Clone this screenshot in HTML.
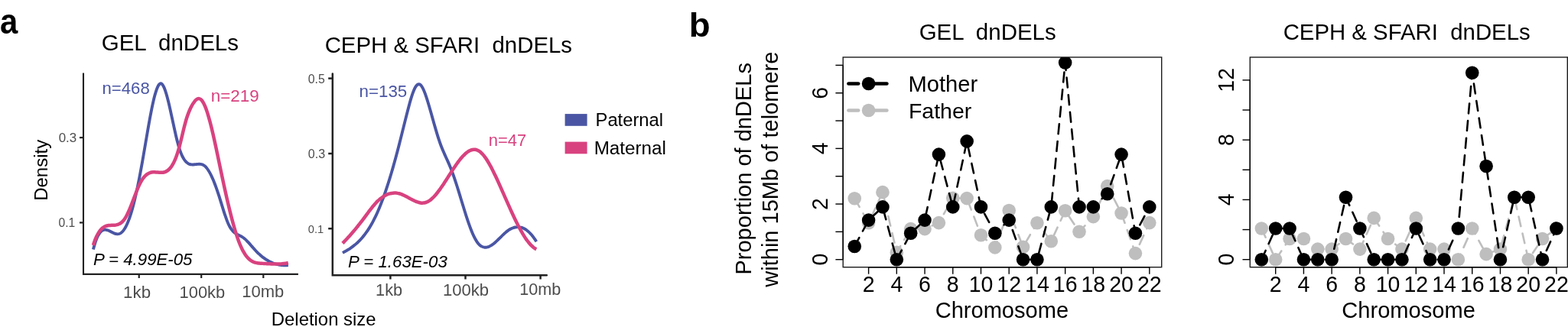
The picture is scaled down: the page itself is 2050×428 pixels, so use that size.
<!DOCTYPE html>
<html lang="en"><head><meta charset="utf-8"><title>dnDELs figure</title>
<style>html,body{margin:0;padding:0;background:#fff;}body{width:2050px;height:428px;overflow:hidden;}svg{display:block;}text{font-family:"Liberation Sans", sans-serif;white-space:pre;}</style></head><body>
<svg width="2050" height="428" viewBox="0 0 2050 428">
<rect x="0" y="0" width="2050" height="428" fill="#ffffff"/>
<text transform="translate(0.05 44.0) scale(1 1.12)" x="0" y="0" font-size="41.86" font-weight="bold" fill="#000">a</text>
<text transform="translate(900.75 47.9) scale(1 0.967)" x="0" y="0" font-size="45.66" font-weight="bold" fill="#000">b</text>
<text x="132.73" y="65.90" font-size="29.50" fill="#000" xml:space="preserve">GEL  dnDELs</text>
<path d="M109 95.5 V358.9 H389.9" fill="none" stroke="#222222" stroke-width="2.10"/>
<line x1="181.75" y1="358.90" x2="181.75" y2="364.00" stroke="#222222" stroke-width="2.20" />
<line x1="263.20" y1="358.90" x2="263.20" y2="364.00" stroke="#222222" stroke-width="2.20" />
<line x1="344.30" y1="358.90" x2="344.30" y2="364.00" stroke="#222222" stroke-width="2.20" />
<line x1="104.00" y1="180.10" x2="109.00" y2="180.10" stroke="#222222" stroke-width="2.20" />
<line x1="104.00" y1="291.40" x2="109.00" y2="291.40" stroke="#222222" stroke-width="2.20" />
<text x="76.67" y="185.90" font-size="16.91" fill="#4d4d4d" xml:space="preserve">0.3</text>
<text x="76.51" y="297.10" font-size="15.62" fill="#4d4d4d" xml:space="preserve">0.1</text>
<text x="161.12" y="390.00" font-size="22.33" fill="#4d4d4d" xml:space="preserve">1kb</text>
<text x="234.56" y="390.00" font-size="21.93" fill="#4d4d4d" xml:space="preserve">100kb</text>
<text x="316.25" y="388.80" font-size="21.99" fill="#4d4d4d" xml:space="preserve">10mb</text>
<text x="61.80" y="262.85" font-size="24.03" fill="#000" transform="rotate(-90 61.80 262.85)" xml:space="preserve">Density</text>
<text x="354.86" y="426.30" font-size="23.87" fill="#000" xml:space="preserve">Deletion size</text>
<path d="M121.90 326.59C122.57 323.94 123.24 321.54 123.91 319.37C124.58 317.21 125.25 315.27 125.91 313.55C126.58 311.83 127.25 310.32 127.92 308.99C128.59 307.67 129.26 306.54 129.93 305.57C130.60 304.61 131.27 303.81 131.94 303.16C132.60 302.51 133.27 302.00 133.94 301.62C134.61 301.24 135.28 300.99 135.95 300.84C136.62 300.69 137.29 300.64 137.96 300.68C138.63 300.71 139.29 300.83 139.96 301.01C140.63 301.19 141.30 301.43 141.97 301.70C142.64 301.98 143.31 302.30 143.98 302.64C144.65 302.97 145.32 303.33 145.99 303.68C146.65 304.03 147.32 304.37 147.99 304.70C148.66 305.02 149.33 305.32 150.00 305.57C150.67 305.82 151.34 306.03 152.01 306.16C152.68 306.30 153.34 306.37 154.01 306.35C154.68 306.33 155.35 306.23 156.02 306.01C156.69 305.79 157.36 305.46 158.03 305.00C158.70 304.54 159.37 303.96 160.03 303.25C160.70 302.54 161.37 301.71 162.04 300.75C162.71 299.79 163.38 298.70 164.05 297.49C164.72 296.27 165.39 294.93 166.06 293.45C166.72 291.98 167.39 290.38 168.06 288.65C168.73 286.91 169.40 285.05 170.07 283.06C170.74 281.06 171.41 278.94 172.08 276.68C172.75 274.42 173.42 272.03 174.08 269.50C174.75 266.98 175.42 264.32 176.09 261.53C176.76 258.73 177.43 255.82 178.10 252.78C178.77 249.75 179.44 246.60 180.11 243.34C180.77 240.09 181.44 236.73 182.11 233.27C182.78 229.82 183.45 226.28 184.12 222.65C184.79 219.03 185.46 215.33 186.13 211.55C186.80 207.78 187.46 203.93 188.13 200.04C188.80 196.15 189.47 192.21 190.14 188.27C190.81 184.32 191.48 180.38 192.15 176.47C192.82 172.56 193.49 168.68 194.16 164.89C194.82 161.09 195.49 157.37 196.16 153.77C196.83 150.16 197.50 146.68 198.17 143.35C198.84 140.02 199.51 136.86 200.18 133.89C200.85 130.92 201.51 128.14 202.18 125.61C202.85 123.08 203.52 120.79 204.19 118.77C204.86 116.76 205.53 115.03 206.20 113.61C206.87 112.20 207.54 111.11 208.20 110.38C208.87 109.64 209.54 109.27 210.21 109.30C210.88 109.33 211.55 109.77 212.22 110.56C212.89 111.35 213.56 112.49 214.23 113.93C214.90 115.37 215.56 117.11 216.23 119.09C216.90 121.08 217.57 123.31 218.24 125.74C218.91 128.16 219.58 130.78 220.25 133.54C220.92 136.30 221.59 139.20 222.25 142.18C222.92 145.17 223.59 148.24 224.26 151.34C224.93 154.45 225.60 157.59 226.27 160.71C226.94 163.83 227.61 166.93 228.28 169.96C228.94 172.99 229.61 175.94 230.28 178.77C230.95 181.60 231.62 184.31 232.29 186.83C232.96 189.36 233.63 191.70 234.30 193.83C234.97 195.95 235.63 197.88 236.30 199.62C236.97 201.35 237.64 202.91 238.31 204.30C238.98 205.68 239.65 206.91 240.32 207.98C240.99 209.05 241.66 209.98 242.33 210.78C242.99 211.58 243.66 212.25 244.33 212.81C245.00 213.37 245.67 213.82 246.34 214.18C247.01 214.54 247.68 214.81 248.35 215.00C249.02 215.20 249.68 215.32 250.35 215.39C251.02 215.46 251.69 215.48 252.36 215.46C253.03 215.44 253.70 215.38 254.37 215.31C255.04 215.24 255.71 215.15 256.37 215.07C257.04 214.99 257.71 214.90 258.38 214.84C259.05 214.78 259.72 214.75 260.39 214.75C261.06 214.75 261.73 214.79 262.40 214.89C263.07 215.00 263.73 215.16 264.40 215.40C265.07 215.64 265.74 215.96 266.41 216.37C267.08 216.79 267.75 217.30 268.42 217.93C269.09 218.55 269.76 219.29 270.42 220.13C271.09 220.97 271.76 221.91 272.43 222.95C273.10 223.99 273.77 225.13 274.44 226.36C275.11 227.58 275.78 228.90 276.45 230.31C277.11 231.71 277.78 233.20 278.45 234.77C279.12 236.33 279.79 237.98 280.46 239.70C281.13 241.42 281.80 243.21 282.47 245.06C283.14 246.92 283.80 248.84 284.47 250.82C285.14 252.81 285.81 254.85 286.48 256.94C287.15 259.04 287.82 261.19 288.49 263.36C289.16 265.53 289.83 267.73 290.50 269.90C291.16 272.08 291.83 274.24 292.50 276.35C293.17 278.46 293.84 280.52 294.51 282.49C295.18 284.46 295.85 286.34 296.52 288.11C297.19 289.87 297.85 291.51 298.52 292.99C299.19 294.48 299.86 295.80 300.53 296.98C301.20 298.16 301.87 299.20 302.54 300.13C303.21 301.05 303.88 301.86 304.54 302.57C305.21 303.29 305.88 303.90 306.55 304.45C307.22 305.00 307.89 305.47 308.56 305.90C309.23 306.33 309.90 306.70 310.57 307.06C311.24 307.41 311.90 307.73 312.57 308.05C313.24 308.38 313.91 308.70 314.58 309.03C315.25 309.37 315.92 309.73 316.59 310.13C317.26 310.53 317.93 310.98 318.59 311.48C319.26 311.98 319.93 312.54 320.60 313.13C321.27 313.73 321.94 314.37 322.61 315.04C323.28 315.71 323.95 316.42 324.62 317.14C325.28 317.87 325.95 318.62 326.62 319.38C327.29 320.14 327.96 320.91 328.63 321.69C329.30 322.46 329.97 323.24 330.64 324.01C331.31 324.78 331.98 325.54 332.64 326.29C333.31 327.04 333.98 327.76 334.65 328.47C335.32 329.17 335.99 329.86 336.66 330.52C337.33 331.18 338.00 331.82 338.67 332.44C339.33 333.06 340.00 333.65 340.67 334.23C341.34 334.81 342.01 335.36 342.68 335.90C343.35 336.43 344.02 336.95 344.69 337.44C345.36 337.94 346.02 338.41 346.69 338.87C347.36 339.32 348.03 339.76 348.70 340.17C349.37 340.59 350.04 340.99 350.71 341.36C351.38 341.74 352.05 342.10 352.71 342.44C353.38 342.78 354.05 343.10 354.72 343.40C355.39 343.70 356.06 343.98 356.73 344.25C357.40 344.51 358.07 344.76 358.74 344.99C359.41 345.22 360.07 345.43 360.74 345.63C361.41 345.82 362.08 346.00 362.75 346.16C363.42 346.32 364.09 346.46 364.76 346.58C365.43 346.71 366.10 346.82 366.76 346.91C367.43 347.00 368.10 347.08 368.77 347.14C369.44 347.20 370.11 347.24 370.78 347.27C371.45 347.30 372.12 347.31 372.79 347.31C373.45 347.30 374.12 347.29 374.79 347.25C375.46 347.22 376.13 347.17 376.80 347.11" fill="none" stroke="#4a56a4" stroke-width="3.90" stroke-linejoin="round"/>
<path d="M121.90 320.99C122.57 318.88 123.24 316.94 123.91 315.16C124.58 313.38 125.25 311.76 125.91 310.28C126.58 308.80 127.25 307.47 127.92 306.26C128.59 305.05 129.26 303.97 129.93 303.01C130.60 302.05 131.27 301.20 131.94 300.46C132.60 299.71 133.27 299.06 133.94 298.50C134.61 297.95 135.28 297.48 135.95 297.08C136.62 296.68 137.29 296.35 137.96 296.09C138.63 295.82 139.29 295.62 139.96 295.45C140.63 295.29 141.30 295.17 141.97 295.09C142.64 295.00 143.31 294.95 143.98 294.91C144.65 294.87 145.32 294.85 145.99 294.84C146.65 294.82 147.32 294.81 147.99 294.78C148.66 294.76 149.33 294.72 150.00 294.66C150.67 294.60 151.34 294.51 152.01 294.39C152.68 294.26 153.34 294.10 154.01 293.88C154.68 293.67 155.35 293.40 156.02 293.06C156.69 292.73 157.36 292.32 158.03 291.84C158.70 291.36 159.37 290.79 160.03 290.13C160.70 289.47 161.37 288.72 162.04 287.85C162.71 286.99 163.38 286.02 164.05 284.92C164.72 283.83 165.39 282.60 166.06 281.28C166.72 279.95 167.39 278.52 168.06 277.02C168.73 275.51 169.40 273.92 170.07 272.28C170.74 270.64 171.41 268.94 172.08 267.21C172.75 265.49 173.42 263.73 174.08 261.96C174.75 260.20 175.42 258.43 176.09 256.68C176.76 254.93 177.43 253.19 178.10 251.50C178.77 249.81 179.44 248.16 180.11 246.58C180.77 245.00 181.44 243.49 182.11 242.06C182.78 240.64 183.45 239.31 184.12 238.09C184.79 236.87 185.46 235.76 186.13 234.76C186.80 233.75 187.46 232.85 188.13 232.03C188.80 231.22 189.47 230.50 190.14 229.86C190.81 229.22 191.48 228.66 192.15 228.18C192.82 227.69 193.49 227.28 194.16 226.94C194.82 226.59 195.49 226.31 196.16 226.09C196.83 225.86 197.50 225.69 198.17 225.56C198.84 225.44 199.51 225.36 200.18 225.32C200.85 225.28 201.51 225.27 202.18 225.29C202.85 225.31 203.52 225.35 204.19 225.40C204.86 225.45 205.53 225.52 206.20 225.58C206.87 225.64 207.54 225.70 208.20 225.74C208.87 225.79 209.54 225.82 210.21 225.82C210.88 225.83 211.55 225.81 212.22 225.74C212.89 225.68 213.56 225.58 214.23 225.43C214.90 225.28 215.56 225.07 216.23 224.81C216.90 224.54 217.57 224.20 218.24 223.79C218.91 223.38 219.58 222.90 220.25 222.32C220.92 221.75 221.59 221.08 222.25 220.31C222.92 219.55 223.59 218.68 224.26 217.70C224.93 216.71 225.60 215.61 226.27 214.39C226.94 213.17 227.61 211.81 228.28 210.32C228.94 208.83 229.61 207.20 230.28 205.42C230.95 203.64 231.62 201.70 232.29 199.60C232.96 197.50 233.63 195.24 234.30 192.80C234.97 190.36 235.63 187.73 236.30 185.01C236.97 182.29 237.64 179.48 238.31 176.66C238.98 173.85 239.65 171.04 240.32 168.32C240.99 165.60 241.66 162.98 242.33 160.55C242.99 158.11 243.66 155.88 244.33 153.81C245.00 151.74 245.67 149.84 246.34 148.09C247.01 146.34 247.68 144.73 248.35 143.25C249.02 141.77 249.68 140.41 250.35 139.15C251.02 137.89 251.69 136.72 252.36 135.66C253.03 134.59 253.70 133.62 254.37 132.78C255.04 131.94 255.71 131.23 256.37 130.65C257.04 130.08 257.71 129.66 258.38 129.39C259.05 129.13 259.72 129.04 260.39 129.13C261.06 129.22 261.73 129.50 262.40 129.98C263.07 130.47 263.73 131.16 264.40 132.07C265.07 132.99 265.74 134.10 266.41 135.41C267.08 136.72 267.75 138.22 268.42 139.88C269.09 141.55 269.76 143.39 270.42 145.38C271.09 147.37 271.76 149.51 272.43 151.79C273.10 154.06 273.77 156.47 274.44 158.99C275.11 161.51 275.78 164.15 276.45 166.88C277.11 169.61 277.78 172.44 278.45 175.34C279.12 178.24 279.79 181.22 280.46 184.25C281.13 187.29 281.80 190.38 282.47 193.52C283.14 196.65 283.80 199.82 284.47 203.01C285.14 206.20 285.81 209.41 286.48 212.62C287.15 215.83 287.82 219.04 288.49 222.24C289.16 225.43 289.83 228.60 290.50 231.75C291.16 234.90 291.83 238.02 292.50 241.11C293.17 244.20 293.84 247.25 294.51 250.27C295.18 253.28 295.85 256.26 296.52 259.18C297.19 262.11 297.85 264.99 298.52 267.82C299.19 270.65 299.86 273.42 300.53 276.14C301.20 278.85 301.87 281.50 302.54 284.09C303.21 286.68 303.88 289.20 304.54 291.64C305.21 294.09 305.88 296.46 306.55 298.75C307.22 301.04 307.89 303.25 308.56 305.38C309.23 307.50 309.90 309.54 310.57 311.48C311.24 313.42 311.90 315.27 312.57 317.02C313.24 318.77 313.91 320.42 314.58 321.96C315.25 323.50 315.92 324.93 316.59 326.27C317.26 327.61 317.93 328.84 318.59 329.99C319.26 331.14 319.93 332.20 320.60 333.17C321.27 334.15 321.94 335.04 322.61 335.85C323.28 336.67 323.95 337.40 324.62 338.07C325.28 338.74 325.95 339.34 326.62 339.88C327.29 340.42 327.96 340.90 328.63 341.33C329.30 341.75 329.97 342.12 330.64 342.45C331.31 342.77 331.98 343.05 332.64 343.29C333.31 343.52 333.98 343.72 334.65 343.89C335.32 344.06 335.99 344.19 336.66 344.30C337.33 344.41 338.00 344.50 338.67 344.57C339.33 344.64 340.00 344.69 340.67 344.73C341.34 344.77 342.01 344.80 342.68 344.83C343.35 344.86 344.02 344.89 344.69 344.92C345.36 344.95 346.02 344.99 346.69 345.02C347.36 345.06 348.03 345.09 348.70 345.13C349.37 345.16 350.04 345.20 350.71 345.24C351.38 345.27 352.05 345.31 352.71 345.34C353.38 345.38 354.05 345.41 354.72 345.44C355.39 345.47 356.06 345.49 356.73 345.52C357.40 345.54 358.07 345.56 358.74 345.57C359.41 345.59 360.07 345.60 360.74 345.60C361.41 345.60 362.08 345.60 362.75 345.59C363.42 345.58 364.09 345.57 364.76 345.54C365.43 345.52 366.10 345.49 366.76 345.45C367.43 345.40 368.10 345.35 368.77 345.30C369.44 345.24 370.11 345.17 370.78 345.08C371.45 345.00 372.12 344.91 372.79 344.81C373.45 344.70 374.12 344.59 374.79 344.46C375.46 344.33 376.13 344.19 376.80 344.03" fill="none" stroke="#d8427f" stroke-width="4.50" stroke-linejoin="round"/>
<text x="133.51" y="122.90" font-size="22.17" fill="#4a56a4" xml:space="preserve">n=468</text>
<text x="275.70" y="133.05" font-size="22.41" fill="#d8427f" xml:space="preserve">n=219</text>
<text x="121.90" y="347.00" font-size="22.24" fill="#000" font-style="italic" xml:space="preserve">P = 4.99E-05</text>
<text x="424.63" y="69.00" font-size="29.40" fill="#000" xml:space="preserve">CEPH &amp; SFARI  dnDELs</text>
<path d="M434.8 96.5 V360.3 H714.8" fill="none" stroke="#222222" stroke-width="2.50" stroke-linecap="round"/>
<line x1="510.40" y1="360.30" x2="510.40" y2="365.50" stroke="#222222" stroke-width="2.50" />
<line x1="608.50" y1="360.30" x2="608.50" y2="365.50" stroke="#222222" stroke-width="2.50" />
<line x1="706.60" y1="360.30" x2="706.60" y2="365.50" stroke="#222222" stroke-width="2.50" />
<line x1="429.20" y1="102.60" x2="434.80" y2="102.60" stroke="#222222" stroke-width="2.50" />
<line x1="429.20" y1="201.00" x2="434.80" y2="201.00" stroke="#222222" stroke-width="2.50" />
<line x1="429.20" y1="299.20" x2="434.80" y2="299.20" stroke="#222222" stroke-width="2.50" />
<text x="402.81" y="108.90" font-size="15.85" fill="#4d4d4d" xml:space="preserve">0.5</text>
<text x="402.80" y="207.10" font-size="16.00" fill="#4d4d4d" xml:space="preserve">0.3</text>
<text x="402.85" y="304.70" font-size="14.62" fill="#4d4d4d" xml:space="preserve">0.1</text>
<text x="491.07" y="386.70" font-size="21.73" fill="#4d4d4d" xml:space="preserve">1kb</text>
<text x="578.94" y="386.70" font-size="22.09" fill="#4d4d4d" xml:space="preserve">100kb</text>
<text x="679.18" y="386.20" font-size="21.61" fill="#4d4d4d" xml:space="preserve">10mb</text>
<path d="M447.90 330.89C448.57 330.54 449.23 330.18 449.90 329.82C450.56 329.46 451.23 329.09 451.89 328.72C452.56 328.34 453.22 327.95 453.89 327.56C454.55 327.16 455.22 326.75 455.88 326.33C456.55 325.91 457.21 325.48 457.88 325.03C458.54 324.59 459.21 324.12 459.87 323.65C460.54 323.17 461.20 322.68 461.87 322.17C462.53 321.66 463.20 321.13 463.86 320.59C464.53 320.04 465.19 319.47 465.86 318.89C466.52 318.30 467.19 317.69 467.85 317.06C468.52 316.43 469.18 315.78 469.85 315.10C470.51 314.42 471.18 313.72 471.84 312.99C472.51 312.27 473.17 311.51 473.84 310.73C474.50 309.95 475.17 309.14 475.83 308.30C476.50 307.46 477.16 306.59 477.83 305.69C478.49 304.79 479.16 303.86 479.82 302.89C480.49 301.93 481.15 300.93 481.82 299.90C482.48 298.86 483.15 297.80 483.81 296.69C484.48 295.59 485.15 294.45 485.81 293.27C486.48 292.09 487.14 290.88 487.81 289.62C488.47 288.36 489.14 287.07 489.80 285.73C490.47 284.39 491.13 283.01 491.80 281.59C492.46 280.17 493.13 278.70 493.79 277.19C494.46 275.68 495.12 274.13 495.79 272.53C496.45 270.93 497.12 269.29 497.78 267.61C498.45 265.93 499.11 264.20 499.78 262.43C500.44 260.67 501.11 258.86 501.77 257.01C502.44 255.16 503.10 253.27 503.77 251.33C504.43 249.40 505.10 247.43 505.76 245.42C506.43 243.40 507.09 241.35 507.76 239.26C508.42 237.17 509.09 235.04 509.75 232.87C510.42 230.69 511.08 228.49 511.75 226.24C512.41 223.99 513.08 221.71 513.74 219.38C514.41 217.06 515.07 214.70 515.74 212.30C516.40 209.90 517.07 207.47 517.73 205.00C518.40 202.53 519.06 200.02 519.73 197.48C520.40 194.93 521.06 192.35 521.73 189.75C522.39 187.14 523.06 184.51 523.72 181.86C524.39 179.21 525.05 176.55 525.72 173.88C526.38 171.20 527.05 168.53 527.71 165.86C528.38 163.18 529.04 160.51 529.71 157.86C530.37 155.21 531.04 152.57 531.70 149.95C532.37 147.34 533.03 144.74 533.70 142.20C534.36 139.65 535.03 137.16 535.69 134.76C536.36 132.36 537.02 130.05 537.69 127.88C538.35 125.71 539.02 123.67 539.68 121.82C540.35 119.96 541.01 118.28 541.68 116.82C542.34 115.35 543.01 114.11 543.67 113.13C544.34 112.14 545.00 111.41 545.67 110.92C546.33 110.44 547.00 110.21 547.66 110.24C548.33 110.27 548.99 110.55 549.66 111.10C550.32 111.65 550.99 112.46 551.65 113.50C552.32 114.54 552.98 115.82 553.65 117.27C554.31 118.73 554.98 120.38 555.64 122.17C556.31 123.95 556.98 125.89 557.64 127.92C558.31 129.96 558.97 132.10 559.64 134.29C560.30 136.49 560.97 138.75 561.63 141.04C562.30 143.34 562.96 145.67 563.63 148.02C564.29 150.37 564.96 152.75 565.62 155.12C566.29 157.48 566.95 159.85 567.62 162.20C568.28 164.54 568.95 166.87 569.61 169.15C570.28 171.43 570.94 173.67 571.61 175.85C572.27 178.03 572.94 180.14 573.60 182.17C574.27 184.21 574.93 186.16 575.60 188.00C576.26 189.85 576.93 191.60 577.59 193.27C578.26 194.95 578.92 196.55 579.59 198.10C580.25 199.65 580.92 201.16 581.58 202.63C582.25 204.11 582.91 205.56 583.58 207.02C584.24 208.47 584.91 209.92 585.57 211.40C586.24 212.87 586.90 214.37 587.57 215.92C588.23 217.47 588.90 219.07 589.56 220.74C590.23 222.41 590.89 224.16 591.56 225.97C592.22 227.79 592.89 229.67 593.56 231.60C594.22 233.54 594.89 235.53 595.55 237.56C596.22 239.59 596.88 241.67 597.55 243.77C598.21 245.88 598.88 248.02 599.54 250.17C600.21 252.33 600.87 254.51 601.54 256.69C602.20 258.88 602.87 261.07 603.53 263.26C604.20 265.45 604.86 267.63 605.53 269.80C606.19 271.98 606.86 274.13 607.52 276.26C608.19 278.39 608.85 280.49 609.52 282.56C610.18 284.62 610.85 286.65 611.51 288.62C612.18 290.60 612.84 292.52 613.51 294.39C614.17 296.25 614.84 298.06 615.50 299.79C616.17 301.52 616.83 303.17 617.50 304.75C618.16 306.32 618.83 307.81 619.49 309.20C620.16 310.59 620.82 311.89 621.49 313.07C622.15 314.26 622.82 315.34 623.48 316.31C624.15 317.28 624.81 318.14 625.48 318.91C626.14 319.67 626.81 320.33 627.47 320.90C628.14 321.48 628.80 321.95 629.47 322.35C630.14 322.74 630.80 323.05 631.47 323.28C632.13 323.51 632.80 323.66 633.46 323.74C634.13 323.81 634.79 323.82 635.46 323.76C636.12 323.71 636.79 323.58 637.45 323.40C638.12 323.22 638.78 322.99 639.45 322.70C640.11 322.41 640.78 322.07 641.44 321.68C642.11 321.30 642.77 320.87 643.44 320.41C644.10 319.95 644.77 319.44 645.43 318.91C646.10 318.38 646.76 317.82 647.43 317.24C648.09 316.66 648.76 316.05 649.42 315.43C650.09 314.80 650.75 314.16 651.42 313.52C652.08 312.87 652.75 312.21 653.41 311.55C654.08 310.90 654.74 310.23 655.41 309.58C656.07 308.92 656.74 308.27 657.40 307.63C658.07 306.99 658.73 306.37 659.40 305.76C660.06 305.15 660.73 304.56 661.39 304.00C662.06 303.43 662.72 302.90 663.39 302.39C664.05 301.88 664.72 301.41 665.39 300.98C666.05 300.54 666.72 300.14 667.38 299.78C668.05 299.42 668.71 299.09 669.38 298.80C670.04 298.51 670.71 298.26 671.37 298.04C672.04 297.83 672.70 297.65 673.37 297.51C674.03 297.37 674.70 297.27 675.36 297.21C676.03 297.15 676.69 297.13 677.36 297.15C678.02 297.16 678.69 297.22 679.35 297.32C680.02 297.42 680.68 297.56 681.35 297.74C682.01 297.92 682.68 298.14 683.34 298.40C684.01 298.66 684.67 298.97 685.34 299.32C686.00 299.66 686.67 300.06 687.33 300.49C688.00 300.92 688.66 301.40 689.33 301.92C689.99 302.44 690.66 303.01 691.32 303.61C691.99 304.22 692.65 304.88 693.32 305.58C693.98 306.28 694.65 307.02 695.31 307.81C695.98 308.60 696.64 309.44 697.31 310.33C697.97 311.21 698.64 312.14 699.30 313.12C699.97 314.10 700.63 315.12 701.30 316.20" fill="none" stroke="#4a56a4" stroke-width="3.90" stroke-linejoin="round"/>
<path d="M447.90 318.42C448.57 317.75 449.23 317.07 449.90 316.39C450.56 315.70 451.23 315.00 451.89 314.30C452.56 313.60 453.22 312.89 453.89 312.17C454.55 311.46 455.22 310.73 455.88 310.00C456.55 309.27 457.21 308.53 457.88 307.78C458.54 307.03 459.21 306.27 459.87 305.51C460.54 304.75 461.20 303.97 461.87 303.19C462.53 302.41 463.20 301.63 463.86 300.83C464.53 300.03 465.19 299.23 465.86 298.42C466.52 297.60 467.19 296.78 467.85 295.96C468.52 295.13 469.18 294.29 469.85 293.44C470.51 292.60 471.18 291.74 471.84 290.88C472.51 290.02 473.17 289.15 473.84 288.27C474.50 287.39 475.17 286.50 475.83 285.61C476.50 284.71 477.16 283.81 477.83 282.90C478.49 282.00 479.16 281.09 479.82 280.19C480.49 279.29 481.15 278.38 481.82 277.49C482.48 276.60 483.15 275.71 483.81 274.84C484.48 273.97 485.15 273.10 485.81 272.26C486.48 271.41 487.14 270.59 487.81 269.78C488.47 268.98 489.14 268.19 489.80 267.43C490.47 266.67 491.13 265.94 491.80 265.24C492.46 264.54 493.13 263.87 493.79 263.22C494.46 262.58 495.12 261.97 495.79 261.38C496.45 260.80 497.12 260.24 497.78 259.71C498.45 259.19 499.11 258.69 499.78 258.22C500.44 257.75 501.11 257.31 501.77 256.90C502.44 256.49 503.10 256.11 503.77 255.76C504.43 255.40 505.10 255.08 505.76 254.79C506.43 254.49 507.09 254.23 507.76 253.99C508.42 253.75 509.09 253.55 509.75 253.37C510.42 253.19 511.08 253.04 511.75 252.92C512.41 252.80 513.08 252.71 513.74 252.64C514.41 252.58 515.07 252.55 515.74 252.54C516.40 252.54 517.07 252.56 517.73 252.61C518.40 252.66 519.06 252.75 519.73 252.86C520.40 252.97 521.06 253.11 521.73 253.27C522.39 253.44 523.06 253.64 523.72 253.86C524.39 254.09 525.05 254.34 525.72 254.61C526.38 254.88 527.05 255.18 527.71 255.49C528.38 255.80 529.04 256.12 529.71 256.46C530.37 256.80 531.04 257.15 531.70 257.51C532.37 257.86 533.03 258.23 533.70 258.60C534.36 258.96 535.03 259.33 535.69 259.70C536.36 260.07 537.02 260.43 537.69 260.79C538.35 261.15 539.02 261.50 539.68 261.84C540.35 262.18 541.01 262.50 541.68 262.81C542.34 263.12 543.01 263.42 543.67 263.69C544.34 263.96 545.00 264.22 545.67 264.44C546.33 264.67 547.00 264.87 547.66 265.03C548.33 265.20 548.99 265.34 549.66 265.44C550.32 265.54 550.99 265.61 551.65 265.64C552.32 265.66 552.98 265.65 553.65 265.59C554.31 265.53 554.98 265.43 555.64 265.27C556.31 265.12 556.98 264.91 557.64 264.65C558.31 264.40 558.97 264.08 559.64 263.72C560.30 263.36 560.97 262.94 561.63 262.48C562.30 262.02 562.96 261.51 563.63 260.96C564.29 260.41 564.96 259.82 565.62 259.18C566.29 258.55 566.95 257.88 567.62 257.17C568.28 256.46 568.95 255.72 569.61 254.94C570.28 254.16 570.94 253.36 571.61 252.52C572.27 251.69 572.94 250.82 573.60 249.93C574.27 249.05 574.93 248.13 575.60 247.20C576.26 246.27 576.93 245.32 577.59 244.35C578.26 243.38 578.92 242.39 579.59 241.39C580.25 240.39 580.92 239.38 581.58 238.36C582.25 237.33 582.91 236.30 583.58 235.27C584.24 234.23 584.91 233.19 585.57 232.14C586.24 231.10 586.90 230.05 587.57 229.01C588.23 227.97 588.90 226.93 589.56 225.89C590.23 224.85 590.89 223.83 591.56 222.80C592.22 221.78 592.89 220.77 593.56 219.78C594.22 218.78 594.89 217.80 595.55 216.83C596.22 215.86 596.88 214.91 597.55 213.98C598.21 213.05 598.88 212.15 599.54 211.26C600.21 210.38 600.87 209.52 601.54 208.69C602.20 207.85 602.87 207.05 603.53 206.28C604.20 205.51 604.86 204.77 605.53 204.06C606.19 203.36 606.86 202.69 607.52 202.06C608.19 201.43 608.85 200.84 609.52 200.29C610.18 199.74 610.85 199.23 611.51 198.77C612.18 198.32 612.84 197.90 613.51 197.54C614.17 197.18 614.84 196.86 615.50 196.61C616.17 196.35 616.83 196.14 617.50 195.99C618.16 195.85 618.83 195.76 619.49 195.73C620.16 195.70 620.82 195.73 621.49 195.83C622.15 195.92 622.82 196.08 623.48 196.32C624.15 196.55 624.81 196.84 625.48 197.21C626.14 197.59 626.81 198.03 627.47 198.54C628.14 199.05 628.80 199.63 629.47 200.27C630.14 200.92 630.80 201.62 631.47 202.39C632.13 203.15 632.80 203.97 633.46 204.85C634.13 205.73 634.79 206.66 635.46 207.64C636.12 208.62 636.79 209.65 637.45 210.72C638.12 211.79 638.78 212.91 639.45 214.07C640.11 215.23 640.78 216.42 641.44 217.66C642.11 218.89 642.77 220.15 643.44 221.45C644.10 222.75 644.77 224.08 645.43 225.43C646.10 226.78 646.76 228.16 647.43 229.56C648.09 230.96 648.76 232.38 649.42 233.82C650.09 235.26 650.75 236.71 651.42 238.18C652.08 239.64 652.75 241.12 653.41 242.60C654.08 244.09 654.74 245.58 655.41 247.08C656.07 248.58 656.74 250.08 657.40 251.59C658.07 253.09 658.73 254.60 659.40 256.11C660.06 257.62 660.73 259.14 661.39 260.64C662.06 262.15 662.72 263.66 663.39 265.16C664.05 266.66 664.72 268.15 665.39 269.64C666.05 271.12 666.72 272.60 667.38 274.07C668.05 275.54 668.71 276.99 669.38 278.44C670.04 279.88 670.71 281.31 671.37 282.73C672.04 284.14 672.70 285.54 673.37 286.92C674.03 288.29 674.70 289.65 675.36 290.99C676.03 292.33 676.69 293.65 677.36 294.94C678.02 296.23 678.69 297.50 679.35 298.74C680.02 299.98 680.68 301.19 681.35 302.38C682.01 303.56 682.68 304.71 683.34 305.83C684.01 306.95 684.67 308.04 685.34 309.10C686.00 310.15 686.67 311.17 687.33 312.15C688.00 313.12 688.66 314.07 689.33 314.97C689.99 315.87 690.66 316.73 691.32 317.54C691.99 318.36 692.65 319.13 693.32 319.86C693.98 320.58 694.65 321.26 695.31 321.90C695.98 322.53 696.64 323.11 697.31 323.64C697.97 324.17 698.64 324.65 699.30 325.07C699.97 325.50 700.63 325.86 701.30 326.18" fill="none" stroke="#d8427f" stroke-width="4.50" stroke-linejoin="round"/>
<text x="469.50" y="126.80" font-size="22.36" fill="#4a56a4" xml:space="preserve">n=135</text>
<text x="638.72" y="190.80" font-size="22.02" fill="#d8427f" xml:space="preserve">n=47</text>
<text x="455.10" y="350.00" font-size="22.25" fill="#000" font-style="italic" xml:space="preserve">P = 1.63E-03</text>
<rect x="738.6" y="149.1" width="29.0" height="15.7" fill="#4a56a4"/>
<rect x="738.6" y="185.6" width="29.0" height="15.7" fill="#d8427f"/>
<text x="778.57" y="165.20" font-size="23.76" fill="#000" xml:space="preserve">Paternal</text>
<text x="776.63" y="201.70" font-size="24.23" fill="#000" xml:space="preserve">Maternal</text>
<clipPath id="c3"><rect x="1102.20" y="74.90" width="416.50" height="274.80"/></clipPath>
<g clip-path="url(#c3)">
<path d="M1117.24 259.70 L1135.60 291.80 L1153.96 251.60 L1172.32 330.40 L1190.68 299.60 L1209.04 299.60 L1227.40 291.60 L1245.76 259.30 L1264.12 259.60 L1282.48 307.70 L1300.84 323.90 L1319.20 275.50 L1337.56 323.20 L1355.92 291.70 L1374.28 315.70 L1392.64 275.80 L1411.00 303.30 L1429.36 283.60 L1447.72 243.60 L1466.08 279.00 L1484.44 331.60 L1502.80 291.60" fill="none" stroke="#bebebe" stroke-width="2.60" stroke-dasharray="12.9 9.78" stroke-dashoffset="0.00" stroke-linecap="round" stroke-linejoin="round"/>
<circle cx="1117.24" cy="259.70" r="8.80" fill="#bebebe"/>
<circle cx="1135.60" cy="291.80" r="8.80" fill="#bebebe"/>
<circle cx="1153.96" cy="251.60" r="8.80" fill="#bebebe"/>
<circle cx="1172.32" cy="330.40" r="8.80" fill="#bebebe"/>
<circle cx="1190.68" cy="299.60" r="8.80" fill="#bebebe"/>
<circle cx="1209.04" cy="299.60" r="8.80" fill="#bebebe"/>
<circle cx="1227.40" cy="291.60" r="8.80" fill="#bebebe"/>
<circle cx="1245.76" cy="259.30" r="8.80" fill="#bebebe"/>
<circle cx="1264.12" cy="259.60" r="8.80" fill="#bebebe"/>
<circle cx="1282.48" cy="307.70" r="8.80" fill="#bebebe"/>
<circle cx="1300.84" cy="323.90" r="8.80" fill="#bebebe"/>
<circle cx="1319.20" cy="275.50" r="8.80" fill="#bebebe"/>
<circle cx="1337.56" cy="323.20" r="8.80" fill="#bebebe"/>
<circle cx="1355.92" cy="291.70" r="8.80" fill="#bebebe"/>
<circle cx="1374.28" cy="315.70" r="8.80" fill="#bebebe"/>
<circle cx="1392.64" cy="275.80" r="8.80" fill="#bebebe"/>
<circle cx="1411.00" cy="303.30" r="8.80" fill="#bebebe"/>
<circle cx="1429.36" cy="283.60" r="8.80" fill="#bebebe"/>
<circle cx="1447.72" cy="243.60" r="8.80" fill="#bebebe"/>
<circle cx="1466.08" cy="279.00" r="8.80" fill="#bebebe"/>
<circle cx="1484.44" cy="331.60" r="8.80" fill="#bebebe"/>
<circle cx="1502.80" cy="291.60" r="8.80" fill="#bebebe"/>
<path d="M1117.24 322.50 L1135.60 288.10 L1153.96 270.90 L1172.32 339.70 L1190.68 305.30 L1209.04 288.10 L1227.40 202.10 L1245.76 270.90 L1264.12 184.90 L1282.48 270.90 L1300.84 305.30 L1319.20 288.10 L1337.56 339.70 L1355.92 339.70 L1374.28 270.90 L1392.64 82.00 L1411.00 270.90 L1429.36 270.90 L1447.72 253.70 L1466.08 202.10 L1484.44 305.30 L1502.80 270.90" fill="none" stroke="#000000" stroke-width="2.60" stroke-dasharray="12.9 9.78" stroke-dashoffset="0.00" stroke-linecap="round" stroke-linejoin="round"/>
<circle cx="1117.24" cy="322.50" r="8.80" fill="#000000"/>
<circle cx="1135.60" cy="288.10" r="8.80" fill="#000000"/>
<circle cx="1153.96" cy="270.90" r="8.80" fill="#000000"/>
<circle cx="1172.32" cy="339.70" r="8.80" fill="#000000"/>
<circle cx="1190.68" cy="305.30" r="8.80" fill="#000000"/>
<circle cx="1209.04" cy="288.10" r="8.80" fill="#000000"/>
<circle cx="1227.40" cy="202.10" r="8.80" fill="#000000"/>
<circle cx="1245.76" cy="270.90" r="8.80" fill="#000000"/>
<circle cx="1264.12" cy="184.90" r="8.80" fill="#000000"/>
<circle cx="1282.48" cy="270.90" r="8.80" fill="#000000"/>
<circle cx="1300.84" cy="305.30" r="8.80" fill="#000000"/>
<circle cx="1319.20" cy="288.10" r="8.80" fill="#000000"/>
<circle cx="1337.56" cy="339.70" r="8.80" fill="#000000"/>
<circle cx="1355.92" cy="339.70" r="8.80" fill="#000000"/>
<circle cx="1374.28" cy="270.90" r="8.80" fill="#000000"/>
<circle cx="1392.64" cy="82.00" r="8.80" fill="#000000"/>
<circle cx="1411.00" cy="270.90" r="8.80" fill="#000000"/>
<circle cx="1429.36" cy="270.90" r="8.80" fill="#000000"/>
<circle cx="1447.72" cy="253.70" r="8.80" fill="#000000"/>
<circle cx="1466.08" cy="202.10" r="8.80" fill="#000000"/>
<circle cx="1484.44" cy="305.30" r="8.80" fill="#000000"/>
<circle cx="1502.80" cy="270.90" r="8.80" fill="#000000"/>
</g>
<rect x="1102.20" y="74.90" width="416.50" height="274.80" fill="none" stroke="#1c1c1c" stroke-width="1.40"/>
<line x1="1135.60" y1="349.70" x2="1135.60" y2="358.70" stroke="#000" stroke-width="1.40" />
<text transform="translate(1135.60 381.80) scale(1 1.040)" x="0" y="0" font-size="28.50" fill="#000" text-anchor="middle">2</text>
<line x1="1172.32" y1="349.70" x2="1172.32" y2="358.70" stroke="#000" stroke-width="1.40" />
<text transform="translate(1172.32 381.80) scale(1 1.040)" x="0" y="0" font-size="28.50" fill="#000" text-anchor="middle">4</text>
<line x1="1209.04" y1="349.70" x2="1209.04" y2="358.70" stroke="#000" stroke-width="1.40" />
<text transform="translate(1209.04 381.80) scale(1 1.040)" x="0" y="0" font-size="28.50" fill="#000" text-anchor="middle">6</text>
<line x1="1245.76" y1="349.70" x2="1245.76" y2="358.70" stroke="#000" stroke-width="1.40" />
<text transform="translate(1245.76 381.80) scale(1 1.040)" x="0" y="0" font-size="28.50" fill="#000" text-anchor="middle">8</text>
<line x1="1282.48" y1="349.70" x2="1282.48" y2="358.70" stroke="#000" stroke-width="1.40" />
<text transform="translate(1282.48 381.80) scale(1 1.040)" x="0" y="0" font-size="28.50" fill="#000" text-anchor="middle">10</text>
<line x1="1319.20" y1="349.70" x2="1319.20" y2="358.70" stroke="#000" stroke-width="1.40" />
<text transform="translate(1319.20 381.80) scale(1 1.040)" x="0" y="0" font-size="28.50" fill="#000" text-anchor="middle">12</text>
<line x1="1355.92" y1="349.70" x2="1355.92" y2="358.70" stroke="#000" stroke-width="1.40" />
<text transform="translate(1355.92 381.80) scale(1 1.040)" x="0" y="0" font-size="28.50" fill="#000" text-anchor="middle">14</text>
<line x1="1392.64" y1="349.70" x2="1392.64" y2="358.70" stroke="#000" stroke-width="1.40" />
<text transform="translate(1392.64 381.80) scale(1 1.040)" x="0" y="0" font-size="28.50" fill="#000" text-anchor="middle">16</text>
<line x1="1429.36" y1="349.70" x2="1429.36" y2="358.70" stroke="#000" stroke-width="1.40" />
<text transform="translate(1429.36 381.80) scale(1 1.040)" x="0" y="0" font-size="28.50" fill="#000" text-anchor="middle">18</text>
<line x1="1466.08" y1="349.70" x2="1466.08" y2="358.70" stroke="#000" stroke-width="1.40" />
<text transform="translate(1466.08 381.80) scale(1 1.040)" x="0" y="0" font-size="28.50" fill="#000" text-anchor="middle">20</text>
<line x1="1502.80" y1="349.70" x2="1502.80" y2="358.70" stroke="#000" stroke-width="1.40" />
<text transform="translate(1502.80 381.80) scale(1 1.040)" x="0" y="0" font-size="28.50" fill="#000" text-anchor="middle">22</text>
<line x1="1092.40" y1="339.70" x2="1102.20" y2="339.70" stroke="#000" stroke-width="1.40" />
<line x1="1092.40" y1="303.37" x2="1102.20" y2="303.37" stroke="#000" stroke-width="1.40" />
<line x1="1092.40" y1="267.04" x2="1102.20" y2="267.04" stroke="#000" stroke-width="1.40" />
<line x1="1092.40" y1="230.71" x2="1102.20" y2="230.71" stroke="#000" stroke-width="1.40" />
<line x1="1092.40" y1="194.38" x2="1102.20" y2="194.38" stroke="#000" stroke-width="1.40" />
<line x1="1092.40" y1="158.05" x2="1102.20" y2="158.05" stroke="#000" stroke-width="1.40" />
<line x1="1092.40" y1="121.72" x2="1102.20" y2="121.72" stroke="#000" stroke-width="1.40" />
<line x1="1092.40" y1="85.39" x2="1102.20" y2="85.39" stroke="#000" stroke-width="1.40" />
<line x1="1135.60" y1="349.70" x2="1502.80" y2="349.70" stroke="#000" stroke-width="1.40" />
<line x1="1102.20" y1="85.39" x2="1102.20" y2="339.70" stroke="#000" stroke-width="1.40" />
<text transform="translate(1081.60 339.70) rotate(-90) scale(1 1.040)" x="0" y="0" font-size="28.50" fill="#000" text-anchor="middle">0</text>
<text transform="translate(1081.60 267.04) rotate(-90) scale(1 1.040)" x="0" y="0" font-size="28.50" fill="#000" text-anchor="middle">2</text>
<text transform="translate(1081.60 194.38) rotate(-90) scale(1 1.040)" x="0" y="0" font-size="28.50" fill="#000" text-anchor="middle">4</text>
<text transform="translate(1081.60 121.72) rotate(-90) scale(1 1.040)" x="0" y="0" font-size="28.50" fill="#000" text-anchor="middle">6</text>
<text x="1201.63" y="51.60" font-size="29.48" fill="#000" xml:space="preserve">GEL  dnDELs</text>
<text x="1222.65" y="415.90" font-size="29.07" fill="#000" xml:space="preserve">Chromosome</text>
<line x1="1109.45" y1="109.50" x2="1122.15" y2="109.50" stroke="#000" stroke-width="4.70" stroke-linecap="round"/>
<line x1="1143.00" y1="109.50" x2="1159.35" y2="109.50" stroke="#000" stroke-width="4.70" stroke-linecap="round"/>
<circle cx="1135.6" cy="109.50" r="8.80" fill="#000"/>
<line x1="1109.45" y1="144.50" x2="1122.15" y2="144.50" stroke="#bebebe" stroke-width="4.70" stroke-linecap="round"/>
<line x1="1143.00" y1="144.50" x2="1159.35" y2="144.50" stroke="#bebebe" stroke-width="4.70" stroke-linecap="round"/>
<circle cx="1135.6" cy="144.50" r="8.80" fill="#bebebe"/>
<text x="1187.43" y="120.00" font-size="29.15" fill="#000" xml:space="preserve">Mother</text>
<text x="1187.99" y="154.60" font-size="28.46" fill="#000" xml:space="preserve">Father</text>
<text x="981.80" y="359.56" font-size="29.04" fill="#000" transform="rotate(-90 981.80 359.56)" xml:space="preserve">Proportion of dnDELs</text>
<text x="1017.20" y="375.70" font-size="29.02" fill="#000" transform="rotate(-90 1017.20 375.70)" xml:space="preserve">within 15Mb of telomere</text>
<clipPath id="c4"><rect x="1634.30" y="74.90" width="415.00" height="274.80"/></clipPath>
<g clip-path="url(#c4)">
<path d="M1649.34 298.96 L1667.70 339.70 L1686.06 312.54 L1704.42 312.54 L1722.78 326.12 L1741.14 326.12 L1759.50 312.54 L1777.86 326.12 L1796.22 285.38 L1814.58 312.54 L1832.94 326.12 L1851.30 285.38 L1869.66 326.12 L1888.02 326.12 L1906.38 339.70 L1924.74 298.96 L1943.10 332.64 L1961.46 326.12 L1979.82 258.22 L1998.18 339.70 L2016.54 312.54 L2034.90 298.96" fill="none" stroke="#bebebe" stroke-width="2.60" stroke-dasharray="12.9 9.78" stroke-dashoffset="0.00" stroke-linecap="round" stroke-linejoin="round"/>
<circle cx="1649.34" cy="298.96" r="8.80" fill="#bebebe"/>
<circle cx="1667.70" cy="339.70" r="8.80" fill="#bebebe"/>
<circle cx="1686.06" cy="312.54" r="8.80" fill="#bebebe"/>
<circle cx="1704.42" cy="312.54" r="8.80" fill="#bebebe"/>
<circle cx="1722.78" cy="326.12" r="8.80" fill="#bebebe"/>
<circle cx="1741.14" cy="326.12" r="8.80" fill="#bebebe"/>
<circle cx="1759.50" cy="312.54" r="8.80" fill="#bebebe"/>
<circle cx="1777.86" cy="326.12" r="8.80" fill="#bebebe"/>
<circle cx="1796.22" cy="285.38" r="8.80" fill="#bebebe"/>
<circle cx="1814.58" cy="312.54" r="8.80" fill="#bebebe"/>
<circle cx="1832.94" cy="326.12" r="8.80" fill="#bebebe"/>
<circle cx="1851.30" cy="285.38" r="8.80" fill="#bebebe"/>
<circle cx="1869.66" cy="326.12" r="8.80" fill="#bebebe"/>
<circle cx="1888.02" cy="326.12" r="8.80" fill="#bebebe"/>
<circle cx="1906.38" cy="339.70" r="8.80" fill="#bebebe"/>
<circle cx="1924.74" cy="298.96" r="8.80" fill="#bebebe"/>
<circle cx="1943.10" cy="332.64" r="8.80" fill="#bebebe"/>
<circle cx="1961.46" cy="326.12" r="8.80" fill="#bebebe"/>
<circle cx="1979.82" cy="258.22" r="8.80" fill="#bebebe"/>
<circle cx="1998.18" cy="339.70" r="8.80" fill="#bebebe"/>
<circle cx="2016.54" cy="312.54" r="8.80" fill="#bebebe"/>
<circle cx="2034.90" cy="298.96" r="8.80" fill="#bebebe"/>
<path d="M1649.34 339.70 L1667.70 298.95 L1686.06 298.95 L1704.42 339.70 L1722.78 339.70 L1741.14 339.70 L1759.50 258.20 L1777.86 298.95 L1796.22 339.70 L1814.58 339.70 L1832.94 339.70 L1851.30 298.95 L1869.66 339.70 L1888.02 339.70 L1906.38 298.95 L1924.74 95.20 L1943.10 217.45 L1961.46 339.70 L1979.82 258.20 L1998.18 258.20 L2016.54 339.70 L2034.90 298.95" fill="none" stroke="#000000" stroke-width="2.60" stroke-dasharray="12.9 9.78" stroke-dashoffset="0.00" stroke-linecap="round" stroke-linejoin="round"/>
<circle cx="1649.34" cy="339.70" r="8.80" fill="#000000"/>
<circle cx="1667.70" cy="298.95" r="8.80" fill="#000000"/>
<circle cx="1686.06" cy="298.95" r="8.80" fill="#000000"/>
<circle cx="1704.42" cy="339.70" r="8.80" fill="#000000"/>
<circle cx="1722.78" cy="339.70" r="8.80" fill="#000000"/>
<circle cx="1741.14" cy="339.70" r="8.80" fill="#000000"/>
<circle cx="1759.50" cy="258.20" r="8.80" fill="#000000"/>
<circle cx="1777.86" cy="298.95" r="8.80" fill="#000000"/>
<circle cx="1796.22" cy="339.70" r="8.80" fill="#000000"/>
<circle cx="1814.58" cy="339.70" r="8.80" fill="#000000"/>
<circle cx="1832.94" cy="339.70" r="8.80" fill="#000000"/>
<circle cx="1851.30" cy="298.95" r="8.80" fill="#000000"/>
<circle cx="1869.66" cy="339.70" r="8.80" fill="#000000"/>
<circle cx="1888.02" cy="339.70" r="8.80" fill="#000000"/>
<circle cx="1906.38" cy="298.95" r="8.80" fill="#000000"/>
<circle cx="1924.74" cy="95.20" r="8.80" fill="#000000"/>
<circle cx="1943.10" cy="217.45" r="8.80" fill="#000000"/>
<circle cx="1961.46" cy="339.70" r="8.80" fill="#000000"/>
<circle cx="1979.82" cy="258.20" r="8.80" fill="#000000"/>
<circle cx="1998.18" cy="258.20" r="8.80" fill="#000000"/>
<circle cx="2016.54" cy="339.70" r="8.80" fill="#000000"/>
<circle cx="2034.90" cy="298.95" r="8.80" fill="#000000"/>
</g>
<rect x="1634.30" y="74.90" width="415.00" height="274.80" fill="none" stroke="#1c1c1c" stroke-width="1.40"/>
<line x1="1667.70" y1="349.70" x2="1667.70" y2="358.70" stroke="#000" stroke-width="1.40" />
<text transform="translate(1667.70 381.80) scale(1 1.040)" x="0" y="0" font-size="28.50" fill="#000" text-anchor="middle">2</text>
<line x1="1704.42" y1="349.70" x2="1704.42" y2="358.70" stroke="#000" stroke-width="1.40" />
<text transform="translate(1704.42 381.80) scale(1 1.040)" x="0" y="0" font-size="28.50" fill="#000" text-anchor="middle">4</text>
<line x1="1741.14" y1="349.70" x2="1741.14" y2="358.70" stroke="#000" stroke-width="1.40" />
<text transform="translate(1741.14 381.80) scale(1 1.040)" x="0" y="0" font-size="28.50" fill="#000" text-anchor="middle">6</text>
<line x1="1777.86" y1="349.70" x2="1777.86" y2="358.70" stroke="#000" stroke-width="1.40" />
<text transform="translate(1777.86 381.80) scale(1 1.040)" x="0" y="0" font-size="28.50" fill="#000" text-anchor="middle">8</text>
<line x1="1814.58" y1="349.70" x2="1814.58" y2="358.70" stroke="#000" stroke-width="1.40" />
<text transform="translate(1814.58 381.80) scale(1 1.040)" x="0" y="0" font-size="28.50" fill="#000" text-anchor="middle">10</text>
<line x1="1851.30" y1="349.70" x2="1851.30" y2="358.70" stroke="#000" stroke-width="1.40" />
<text transform="translate(1851.30 381.80) scale(1 1.040)" x="0" y="0" font-size="28.50" fill="#000" text-anchor="middle">12</text>
<line x1="1888.02" y1="349.70" x2="1888.02" y2="358.70" stroke="#000" stroke-width="1.40" />
<text transform="translate(1888.02 381.80) scale(1 1.040)" x="0" y="0" font-size="28.50" fill="#000" text-anchor="middle">14</text>
<line x1="1924.74" y1="349.70" x2="1924.74" y2="358.70" stroke="#000" stroke-width="1.40" />
<text transform="translate(1924.74 381.80) scale(1 1.040)" x="0" y="0" font-size="28.50" fill="#000" text-anchor="middle">16</text>
<line x1="1961.46" y1="349.70" x2="1961.46" y2="358.70" stroke="#000" stroke-width="1.40" />
<text transform="translate(1961.46 381.80) scale(1 1.040)" x="0" y="0" font-size="28.50" fill="#000" text-anchor="middle">18</text>
<line x1="1998.18" y1="349.70" x2="1998.18" y2="358.70" stroke="#000" stroke-width="1.40" />
<text transform="translate(1998.18 381.80) scale(1 1.040)" x="0" y="0" font-size="28.50" fill="#000" text-anchor="middle">20</text>
<line x1="2034.90" y1="349.70" x2="2034.90" y2="358.70" stroke="#000" stroke-width="1.40" />
<text transform="translate(2034.90 381.80) scale(1 1.040)" x="0" y="0" font-size="28.50" fill="#000" text-anchor="middle">22</text>
<line x1="1624.50" y1="339.70" x2="1634.30" y2="339.70" stroke="#000" stroke-width="1.40" />
<line x1="1624.50" y1="300.56" x2="1634.30" y2="300.56" stroke="#000" stroke-width="1.40" />
<line x1="1624.50" y1="261.42" x2="1634.30" y2="261.42" stroke="#000" stroke-width="1.40" />
<line x1="1624.50" y1="222.28" x2="1634.30" y2="222.28" stroke="#000" stroke-width="1.40" />
<line x1="1624.50" y1="183.14" x2="1634.30" y2="183.14" stroke="#000" stroke-width="1.40" />
<line x1="1624.50" y1="144.00" x2="1634.30" y2="144.00" stroke="#000" stroke-width="1.40" />
<line x1="1624.50" y1="104.86" x2="1634.30" y2="104.86" stroke="#000" stroke-width="1.40" />
<line x1="1667.70" y1="349.70" x2="2034.90" y2="349.70" stroke="#000" stroke-width="1.40" />
<line x1="1634.30" y1="104.86" x2="1634.30" y2="339.70" stroke="#000" stroke-width="1.40" />
<text transform="translate(1613.30 339.70) rotate(-90) scale(1 1.040)" x="0" y="0" font-size="28.50" fill="#000" text-anchor="middle">0</text>
<text transform="translate(1613.30 261.42) rotate(-90) scale(1 1.040)" x="0" y="0" font-size="28.50" fill="#000" text-anchor="middle">4</text>
<text transform="translate(1613.30 183.14) rotate(-90) scale(1 1.040)" x="0" y="0" font-size="28.50" fill="#000" text-anchor="middle">8</text>
<text transform="translate(1613.30 104.86) rotate(-90) scale(1 1.040)" x="0" y="0" font-size="28.50" fill="#000" text-anchor="middle">12</text>
<text x="1677.63" y="51.80" font-size="29.36" fill="#000" xml:space="preserve">CEPH &amp; SFARI  dnDELs</text>
<text x="1754.35" y="415.90" font-size="29.09" fill="#000" xml:space="preserve">Chromosome</text>
</svg></body></html>
